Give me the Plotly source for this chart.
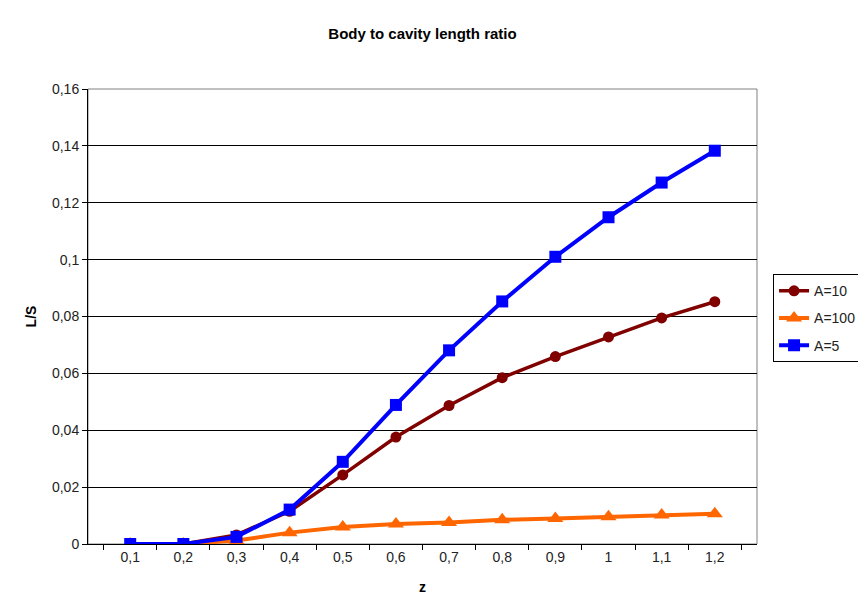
import plotly.graph_objects as go

z_labels = ["0,1", "0,2", "0,3", "0,4", "0,5", "0,6", "0,7", "0,8", "0,9", "1", "1,1", "1,2"]
a10 = [0.0, 0.0, 0.0032, 0.0115, 0.0243, 0.0376, 0.0487, 0.0585, 0.0659, 0.0728, 0.0795, 0.0852]
a100 = [0.0, 0.0, 0.0012, 0.0040, 0.0060, 0.0070, 0.0076, 0.0085, 0.0090, 0.0096, 0.0102, 0.0106]
a5 = [0.0, 0.0, 0.0025, 0.0121, 0.0289, 0.0489, 0.0681, 0.0853, 0.1010, 0.1149, 0.1271, 0.1383]
y_ticks = [0, 0.02, 0.04, 0.06, 0.08, 0.1, 0.12, 0.14, 0.16]

FONT = "Liberation Sans, Arial, sans-serif"

fig = go.Figure()
fig.add_trace(go.Scatter(x=z_labels, y=a10, name="A=10", mode="lines+markers",
                         legendgroup="g1",
                         line=dict(color="#800000", width=3.5),
                         marker=dict(symbol="circle", size=11, color="#800000")))
fig.add_trace(go.Scatter(x=z_labels, y=a100, name="A=100", mode="lines+markers",
                         legendgroup="g2",
                         line=dict(color="#FF6600", width=4),
                         marker=dict(symbol="triangle-up", size=14, color="#FF6600")))
fig.add_trace(go.Scatter(x=z_labels, y=a5, name="A=5", mode="lines+markers",
                         legendgroup="g3",
                         line=dict(color="#0000FF", width=4),
                         marker=dict(symbol="square", size=12, color="#0000FF")))

fig.add_shape(type="rect", xref="paper", yref="paper", x0=0, y0=0, x1=1, y1=1,
              line=dict(color="#808080", width=1), layer="below")

fig.update_layout(
    width=866, height=597,
    margin=dict(l=80, r=111, t=81, b=59),
    paper_bgcolor="white", plot_bgcolor="white",
    separators=", ",
    font=dict(family=FONT, size=14, color="#222"),
    title=dict(text="<b>Body to cavity length ratio</b>", x=0.5, xref="paper",
               xanchor="center", y=1 - 26 / 597, yanchor="middle",
               font=dict(family=FONT, size=15, color="#000")),
    showlegend=True,
    legend=dict(x=1.024, xanchor="left", y=0.593, yanchor="top",
                bordercolor="#000", borderwidth=1, bgcolor="white",
                tracegroupgap=6, font=dict(family=FONT, size=14, color="#222")),
    xaxis=dict(type="category", tickson="boundaries", ticks="outside", ticklen=5,
               tickcolor="#000", showline=True, linecolor="#000", linewidth=1,
               showgrid=False, tickfont=dict(size=14),
               title=dict(text="<b>z</b>", font=dict(size=14, color="#000"), standoff=18)),
    yaxis=dict(range=[0, 0.16], tickvals=y_ticks, ticks="outside", ticklen=5,
               tickcolor="#000", showline=True, linecolor="#000", linewidth=1,
               showgrid=True, gridcolor="#000", gridwidth=1, zeroline=False,
               tickfont=dict(size=14),
               title=dict(text="<b>L/S</b>", font=dict(size=14, color="#000"), standoff=12)),
)

fig.write_html("out.html")
